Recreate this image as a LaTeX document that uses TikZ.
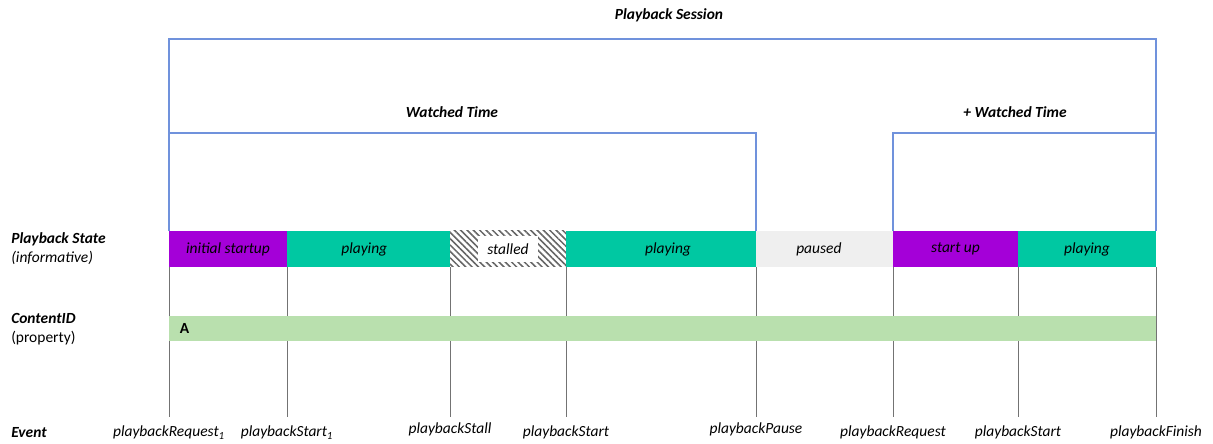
\documentclass[tikz,border=0pt]{standalone}
\usepackage{fontspec}
\setmainfont{Carlito}
\usetikzlibrary{patterns.meta, calc}

\definecolor{startPurple}{RGB}{164,0,216}
\definecolor{playTeal}{RGB}{0,200,162}
\definecolor{pauseGray}{RGB}{239,239,239}
\definecolor{contentGreen}{RGB}{185,224,174}
\definecolor{frameBlue}{RGB}{112,146,220}

\begin{document}
\begin{tikzpicture}[
    x=0.025cm, y=-0.025cm,
    font=\fontsize{11}{13}\selectfont,
    frame/.style={frameBlue, line width=1pt}, % blue brackets for session / watched time
    tick/.style={gray!90!black, line width=0.6pt}, % event lines
    title/.style={font=\fontsize{11}{13}\selectfont\bfseries\itshape},
    state text/.style={font=\fontsize{11}{13}\selectfont\itshape, text=black, inner sep=0pt},
    event/.style={font=\fontsize{11}{13}\selectfont\itshape, inner sep=0pt, anchor=base}
]
    \useasboundingbox (0,0) rectangle (1213,444);

    % === Coordinates ===
    % event instants along the time axis
    \coordinate (e1) at (169,0);
    \coordinate (e2) at (287,0);
    \coordinate (e3) at (450,0);
    \coordinate (e4) at (566,0);
    \coordinate (e5) at (756,0);
    \coordinate (e6) at (893,0);
    \coordinate (e7) at (1018,0);
    \coordinate (e8) at (1156,0);

    % rows
    \coordinate (sesTop) at (0,39);
    \coordinate (wtTop)  at (0,133);
    \coordinate (barTop) at (0,231);
    \coordinate (barBot) at (0,267);
    \coordinate (cidTop) at (0,316);
    \coordinate (cidBot) at (0,341);
    \coordinate (tickEnd) at (0,417);

    % === Event lines ===
    \draw[tick] (e1 |- barBot) -- (e1 |- tickEnd);
    \draw[tick] (e2 |- barBot) -- (e2 |- tickEnd);
    \draw[tick] (e3 |- barBot) -- (e3 |- tickEnd);
    \draw[tick] (e4 |- barBot) -- (e4 |- tickEnd);
    \draw[tick] (e5 |- barBot) -- (e5 |- tickEnd);
    \draw[tick] (e6 |- barBot) -- (e6 |- tickEnd);
    \draw[tick] (e7 |- barBot) -- (e7 |- tickEnd);
    \draw[tick] (e8 |- barBot) -- (e8 |- tickEnd);

    % === ContentID bar ===
    \fill[contentGreen] (e1 |- cidTop) rectangle (e8 |- cidBot);
    \node[font=\fontsize{11}{13}\selectfont\bfseries, anchor=west] (cidA) at ($(e1 |- cidTop)!0.5!(e1 |- cidBot) + (6,0)$) {A};

    % === Playback state bar ===
    \fill[startPurple] (e1 |- barTop) rectangle (e2 |- barBot)
        node[midway, state text] (st1) {initial startup};
    \fill[playTeal] (e2 |- barTop) rectangle (e3 |- barBot)
        node[midway, state text, xshift=-3] (st2) {playing};
    \fill[pattern={Lines[angle=-45, distance=3.2pt, line width=1.1pt]}, pattern color=gray!80!black] (e3 |- barTop) rectangle (e4 |- barBot);
    \fill[white] (478,236) rectangle (538,262);
    \node[state text] (st3) at (508,249) {stalled};
    \fill[playTeal] (e4 |- barTop) rectangle (e5 |- barBot)
        node[midway, state text, xshift=5] (st4) {playing};
    \fill[pauseGray] (e5 |- barTop) rectangle (e6 |- barBot)
        node[midway, state text, xshift=-4] (st5) {paused};
    \fill[startPurple] (e6 |- barTop) rectangle (e7 |- barBot)
        node[midway, state text] (st6) {start up};
    \fill[playTeal] (e7 |- barTop) rectangle (e8 |- barBot)
        node[midway, state text] (st7) {playing};

    % === Session and watched time brackets ===
    \draw[frame] (e1 |- barTop) |- (e8 |- sesTop) -- (e8 |- barTop);
    \draw[frame] (e1 |- wtTop) -| (e5 |- barTop);
    \draw[frame] (e6 |- barTop) |- (e8 |- wtTop);

    \node[title] (session) at (669,15) {Playback Session};
    \node[title] (watched) at (452,112) {Watched Time};
    \node[title] (moreWatched) at (1015,112) {+ Watched Time};

    % === Row labels ===
    \node[title, anchor=west, inner sep=0pt] (stateLbl) at (11,239) {Playback State};
    \node[state text, anchor=west] (stateSub) at (11,258) {(informative)};
    \node[title, anchor=west, inner sep=0pt] (cidLbl) at (11,318) {ContentID};
    \node[anchor=west, inner sep=0pt] (cidSub) at (11,338) {(property)};
    \node[title, anchor=west, inner sep=0pt] (eventLbl) at (11,433) {Event};

    % === Event labels ===
    \node[event] (ev1) at (e1 |- 0,437) {playbackRequest\textsubscript{1}};
    \node[event] (ev2) at (e2 |- 0,437) {playbackStart\textsubscript{1}};
    \node[event] (ev3) at (e3 |- 0,434) {playbackStall};
    \node[event] (ev4) at (e4 |- 0,437) {playbackStart};
    \node[event] (ev5) at (e5 |- 0,434) {playbackPause};
    \node[event] (ev6) at (e6 |- 0,437) {playbackRequest};
    \node[event] (ev7) at (e7 |- 0,437) {playbackStart};
    \node[event] (ev8) at (e8 |- 0,437) {playbackFinish};

\end{tikzpicture}
\end{document}
